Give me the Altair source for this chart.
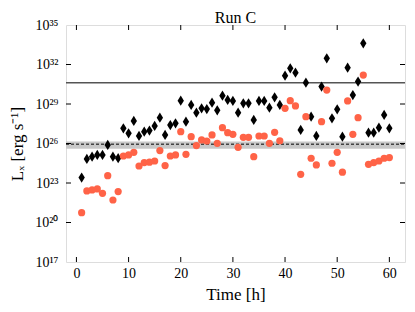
import altair as alt
import pandas as pd

# Hours of observation
hours = list(range(1, 61))

# log10 of L_X for the two series
black_log = [23.41, 24.83, 25.00, 25.13, 25.13, 25.89, 25.00, 24.88, 27.15, 26.77,
             27.71, 26.57, 26.90, 26.98, 27.33, 27.96, 26.65, 27.40, 27.53, 29.25,
             27.66, 28.93, 28.34, 28.67, 28.62, 29.10, 28.52, 29.63, 29.31, 29.23,
             28.34, 29.05, 29.05, 27.79, 29.23, 29.23, 28.72, 29.51, 28.93, 31.15,
             31.71, 31.38, 27.03, 30.62, 28.04, 26.57, 30.32, 32.47, 27.91, 28.60,
             26.52, 31.76, 29.68, 30.70, 33.61, 26.82, 26.82, 27.20, 28.17, 27.15]

red_log = [20.75, 22.40, 22.47, 22.55, 22.22, 23.56, 21.71, 22.35, 25.05, 25.13,
           25.33, 24.29, 24.55, 24.58, 24.67, 25.46, 24.32, 25.05, 25.13, 26.90,
           25.18, 26.52, 25.84, 26.27, 26.19, 26.65, 26.01, 27.20, 26.82, 26.70,
           25.71, 26.47, 26.47, 25.00, 26.57, 26.57, 26.01, 26.85, 26.21, 28.67,
           29.25, 28.85, 23.66, 28.04, 24.88, 24.37, 27.66, 30.06, 24.50, 25.33,
           23.82, 29.23, 26.70, 27.96, 31.20, 24.42, 24.55, 24.67, 24.88, 24.93]

# Reference levels (log10)
solid_level = 30.62
dashed_level = 25.95
band_low, band_high = 25.60, 26.15

# Axis ticks
y_exps = [17, 20, 23, 26, 29, 32, 35]
x_ticks = [0, 10, 20, 30, 40, 50, 60]
x_domain = [-2, 63]

chart_title = ["Run C"]

W, H = 339, 237
FONT = "Liberation Serif"
sup = str.maketrans("0123456789", "⁰¹²³⁴⁵⁶⁷⁸⁹")

df_b = pd.DataFrame({"h": hours, "L": [10 ** v for v in black_log]})
df_r = pd.DataFrame({"h": hours, "L": [10 ** v for v in red_log]})

y_vals = [10.0 ** e for e in y_exps]
expr = ""
for e in y_exps[:-1]:
    expr += f"datum.value < {10.0 ** (e + 1):.0e} ? '10{str(e).translate(sup)}' : "
expr += f"'10{str(y_exps[-1]).translate(sup)}'"

yscale = alt.Scale(type="log", domain=[1e17, 1e35], nice=False)
xscale = alt.Scale(domain=x_domain, nice=False, zero=False)

yaxis = alt.Axis(values=y_vals, labelExpr=expr, ticks=False, domain=False, grid=False,
                 labelFont=FONT, labelFontSize=14, labelPadding=8, labelColor="black",
                 title="Lₓ [erg s⁻¹]", titleFont=FONT, titleFontSize=17,
                 titleFontWeight="normal", titlePadding=8, titleColor="black")
xaxis = alt.Axis(values=x_ticks, ticks=False, domain=False, grid=False,
                 labelFont=FONT, labelFontSize=14, labelPadding=4, labelColor="black",
                 title="Time [h]", titleFont=FONT, titleFontSize=17,
                 titleFontWeight="normal", titlePadding=6, titleColor="black")

band = alt.Chart(pd.DataFrame({"lo": [10 ** band_low], "hi": [10 ** band_high]})).mark_rect(
    color="#c8c8c8").encode(
    x=alt.value(0), x2=alt.value(W),
    y=alt.Y("lo:Q", scale=yscale, axis=yaxis), y2="hi:Q")

dashed = alt.Chart(pd.DataFrame({"v": [10 ** dashed_level]})).mark_rule(
    color="black", strokeWidth=1, strokeDash=[3, 2]).encode(
    x=alt.value(0), x2=alt.value(W), y=alt.Y("v:Q", scale=yscale))

solid = alt.Chart(pd.DataFrame({"v": [10 ** solid_level]})).mark_rule(
    color="#555555", strokeWidth=1.5).encode(
    x=alt.value(0), x2=alt.value(W), y=alt.Y("v:Q", scale=yscale))

diamond = "M0,-1L0.62,0L0,1L-0.62,0Z"
black_pts = alt.Chart(df_b).mark_point(
    shape=diamond, filled=True, color="black", size=105, opacity=1).encode(
    x=alt.X("h:Q", scale=xscale, axis=xaxis), y=alt.Y("L:Q", scale=yscale))

red_pts = alt.Chart(df_r).mark_circle(color="#ff6347", size=52, opacity=1).encode(
    x=alt.X("h:Q", scale=xscale), y=alt.Y("L:Q", scale=yscale))

tick_len = 5
ydf = pd.DataFrame({"v": y_vals[1:-1]})
xdf = pd.DataFrame({"t": x_ticks})
yt_left = alt.Chart(ydf).mark_rule(color="black", strokeWidth=1).encode(
    x=alt.value(0), x2=alt.value(tick_len), y=alt.Y("v:Q", scale=yscale))
yt_right = alt.Chart(ydf).mark_rule(color="black", strokeWidth=1).encode(
    x=alt.value(W - tick_len), x2=alt.value(W), y=alt.Y("v:Q", scale=yscale))
xt_bot = alt.Chart(xdf).mark_rule(color="black", strokeWidth=1).encode(
    y=alt.value(H - tick_len), y2=alt.value(H), x=alt.X("t:Q", scale=xscale))
xt_top = alt.Chart(xdf).mark_rule(color="black", strokeWidth=1).encode(
    y=alt.value(0), y2=alt.value(tick_len), x=alt.X("t:Q", scale=xscale))

title_txt = alt.Chart(pd.DataFrame({"t": chart_title})).mark_text(
    font=FONT, fontSize=16, color="black", align="center", baseline="alphabetic").encode(
    x=alt.value(W / 2), y=alt.value(-2), text="t:N")

chart = alt.layer(band, dashed, solid, black_pts, red_pts,
                  yt_left, yt_right, xt_bot, xt_top, title_txt).properties(
    width=W, height=H,
    autosize=alt.AutoSizeParams(type="none"),
    padding={"left": 58, "top": 17, "right": 2, "bottom": 42},
).configure_view(stroke="black", strokeWidth=1.5).configure(background="white")

chart.save("out.html", embed_options={"renderer": "svg", "actions": False})
